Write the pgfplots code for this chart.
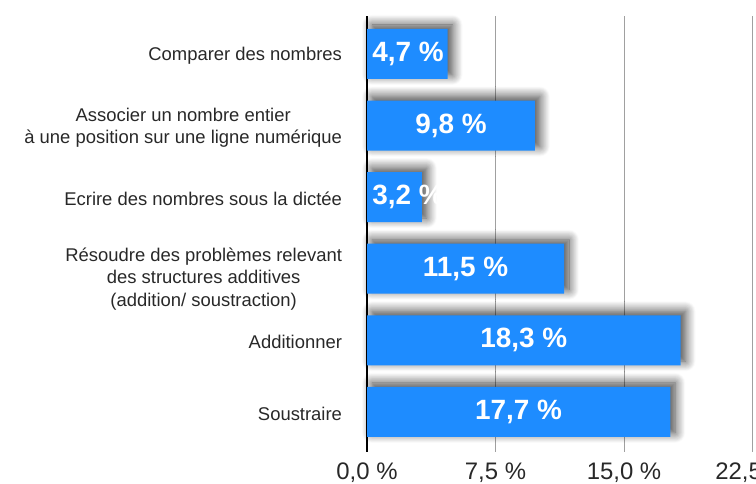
\documentclass[border=0pt]{standalone}
\usepackage{pgfplots}
\usepackage{pgfplotstable}
\pgfplotsset{compat=1.18}
\usepackage{fontspec}
\setmainfont{Liberation Sans}
\usetikzlibrary{shadows.blur}

\definecolor{barblue}{RGB}{30,140,255}
\definecolor{gridgray}{RGB}{160,160,160}
\definecolor{labelgray}{RGB}{40,40,40}

% y = position from the bottom, v = share in %
\pgfplotstableread{
y v
5 4.7
4 9.8
3 3.2
2 11.5
1 18.3
0 17.7
}\scores

\pgfplotsset{
  layers/barsfirst/.define layer set={
    axis background,axis grid,axis ticks,axis tick labels,
    main,axis lines,axis descriptions,axis foreground}{},
}

\begin{document}
\begin{tikzpicture}
\begin{axis}[
  set layers=barsfirst,
  at={(367bp,32bp)}, anchor=south west,
  width=385.5bp, height=436bp, scale only axis,
  xmin=0, xmax=22.5, ymin=-0.56, ymax=5.53,
  xtick={0,7.5,15,22.5},
  ytick={0,1,2,3,4,5},
  yticklabels={
    Soustraire,
    Additionner,
    {\rule{0pt}{30bp}Résoudre des problèmes relevant\\des structures additives\\(addition/ soustraction)},
    Ecrire des nombres sous la dictée,
    {Associer un nombre entier\\à une position sur une ligne numérique},
    Comparer des nombres},
  yticklabel style={align=center, text=labelgray,
    font=\fontsize{18.5}{22.5}\selectfont, xshift=-21.5bp, yshift=-2bp},
  xticklabel={\pgfmathprintnumber[fixed,fixed zerofill,precision=1,use comma,assume math mode=true]{\tick}~\%},
  xticklabel style={text=labelgray, font=\fontsize{24}{26}\selectfont,
    inner sep=0pt, yshift=-11bp},
  major tick length=0pt,
  xmajorgrids, major grid style={gridgray, line width=1bp},
  axis lines*=left,
  x axis line style={draw=none},
  y axis line style={black, line width=1.5bp},
  clip=false,
]
\addplot[xbar, bar width=50bp, fill=barblue, draw=none,
  blur shadow={shadow xshift=5bp, shadow yshift=4bp,
    shadow blur radius=10bp, shadow blur steps=12, shadow opacity=75}]
  table[x=v, y=y] {\scores};

\addplot[draw=none, mark=none,
  point meta=explicit,
  nodes near coords={\pgfmathprintnumber[fixed,fixed zerofill,precision=1,use comma,assume math mode=true]{\pgfplotspointmeta}~\%},
  every node near coord/.style={anchor=center, text=white,
    font=\bfseries\fontsize{28}{30}\selectfont}]
  table[x expr={max(\thisrow{v}/2,2.4)}, y=y, meta=v] {\scores};
\end{axis}
\pgfresetboundingbox
\path[use as bounding box] (0,0) rectangle (756bp,484bp);
\end{tikzpicture}
\end{document}
